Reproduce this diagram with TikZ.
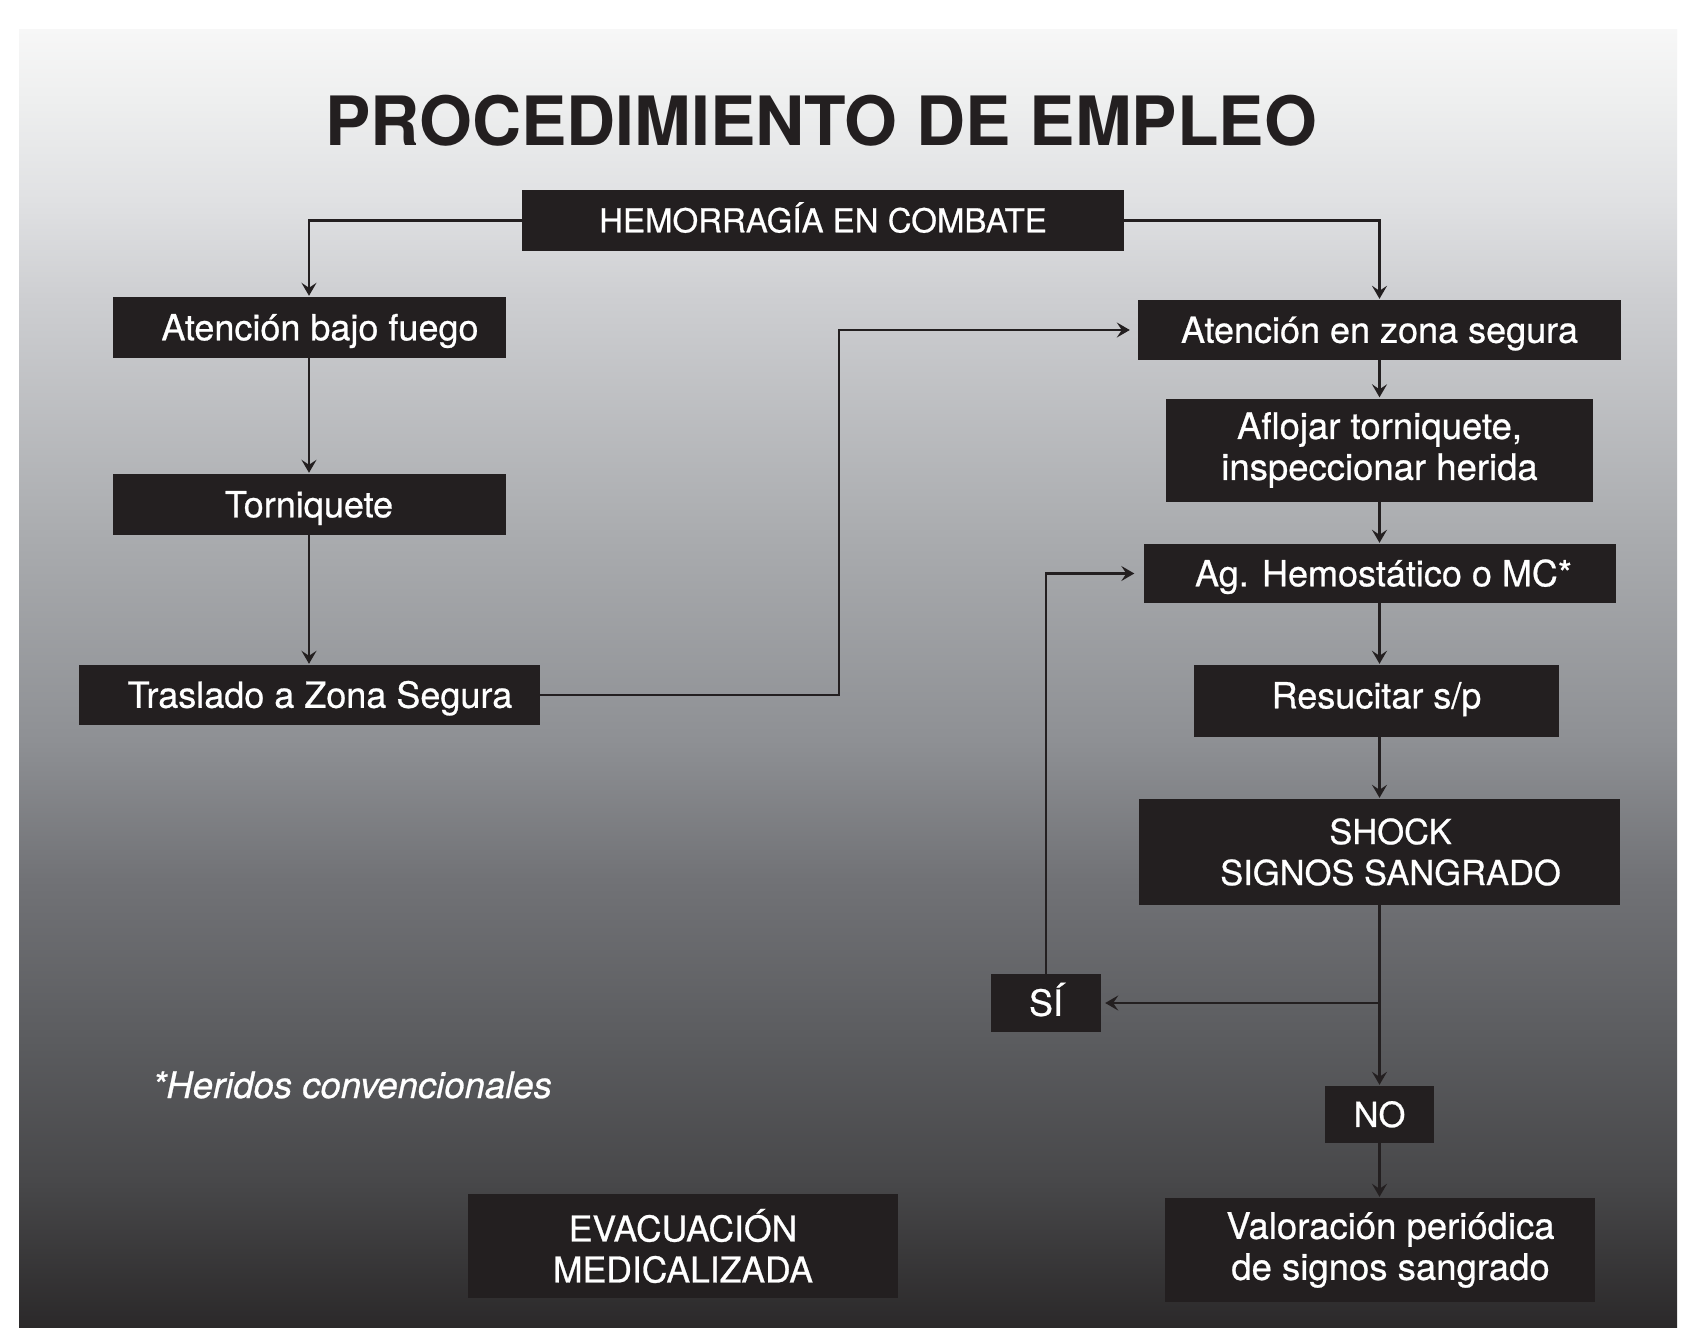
\documentclass[tikz,border=0pt]{standalone}
\usepackage{fontspec}
\setmainfont{TeX Gyre Heros}
\newfontfamily\medfont{TeX Gyre Heros}[FakeBold=0.7]
\usetikzlibrary{arrows.meta,calc}
\definecolor{ink}{HTML}{231F20}
\definecolor{g0}{HTML}{2B292A}
\definecolor{g1}{HTML}{48484A}
\definecolor{g2}{HTML}{5B5C5F}
\definecolor{g3}{HTML}{717276}
\definecolor{g4}{HTML}{8E9094}
\definecolor{g5}{HTML}{A9ABAE}
\definecolor{g6}{HTML}{CDCED1}
\definecolor{g7}{HTML}{E0E1E3}
\definecolor{g8}{HTML}{EEEFEF}
\definecolor{g9}{HTML}{F7F7F7}
\pgfdeclareverticalshading{bgshade}{100bp}{color(0bp)=(g0); color(25bp)=(g0); color(30.66bp)=(g1); color(36.06bp)=(g2); color(42.22bp)=(g3); color(47.61bp)=(g4); color(55.32bp)=(g5); color(64.56bp)=(g6); color(68.41bp)=(g7); color(72.27bp)=(g8); color(75bp)=(g9); color(100bp)=(g9)}
\newcommand{\sh}{\hspace*{22pt}}
\begin{document}
\begin{tikzpicture}[x=1pt,y=-1pt,
  box/.style={fill=ink, text=white, inner sep=0pt, font=\medfont\fontsize{36}{41}\selectfont, text height=25.5pt, text depth=0pt},
  boxtwo/.style={fill=ink, text=white, inner sep=0pt, font=\medfont\fontsize{36.5}{41}\selectfont, align=center},
  arr/.style={draw=ink, line width=2.3pt, shorten >=1pt, -{Stealth[length=13pt, width=15pt, inset=5pt]}}
]
\useasboundingbox (0,0) rectangle (1695,1341);
\fill[white] (0,0) rectangle (1695,1341);
\path[shading=bgshade] (19,29) rectangle (1677,1327);

% title
\node[font=\fontsize{68}{80}\selectfont\bfseries, text=ink, anchor=base, inner sep=0pt] (title) at (821,145) {PROCEDIMIENTO DE EMPLEO};

% left column
\node[box, minimum width=602pt, minimum height=61pt, font=\medfont\fontsize{33}{39}\selectfont, text height=23.7pt] (hem) at (823,220.5) {HEMORRAGÍA EN COMBATE};
\node[box, minimum width=393pt, minimum height=61pt] (abf) at (309,327.5) {\sh Atención bajo fuego};
\node[box, minimum width=393pt, minimum height=61pt] (torn) at (309,504.5) {Torniquete};
\node[box, minimum width=461pt, minimum height=60pt] (tras) at (309,695) {\sh Traslado a Zona Segura};

% right column
\node[box, minimum width=483pt, minimum height=60pt] (azs) at (1379.5,330) {Atención en zona segura};
\node[boxtwo, minimum width=427pt, minimum height=103pt] (afl) at (1379.5,450) {Aflojar torniquete,\\inspeccionar herida};
\node[box, minimum width=472pt, minimum height=59pt] (ag) at (1379.5,573.5) {\hspace*{8pt}Ag. Hemostático o MC*};
\node[box, minimum width=365pt, minimum height=72pt, text depth=10.8pt] (res) at (1376.5,701) {Resucitar s/p};
\node[boxtwo, minimum width=481pt, minimum height=106pt, font=\medfont\fontsize{34.5}{41}\selectfont] (shock) at (1379.5,852) {\sh SHOCK\\\sh SIGNOS SANGRADO};
\node[box, minimum width=110pt, minimum height=58pt] (si) at (1046,1003) {SÍ};
\node[box, minimum width=109pt, minimum height=57pt, font=\medfont\fontsize{34.5}{40}\selectfont, text height=24.8pt] (no) at (1379.5,1114.5) {NO};
\node[boxtwo, minimum width=430pt, minimum height=104pt] (val) at (1379.5,1250) {\sh Valoración periódica\\\sh de signos sangrado};
\node[boxtwo, minimum width=430pt, minimum height=104pt, font=\medfont\fontsize{35.5}{41}\selectfont] (evac) at (683,1246) {EVACUACIÓN\\MEDICALIZADA};

% note
\node[font=\medfont\fontsize{36.5}{41}\selectfont\itshape, text=white, anchor=base west, inner sep=0pt] (nota) at (152,1098) {*Heridos convencionales};

% connectors
\draw[arr] (hem.west) -| (abf.north);
\draw[arr] (hem.east) -| (azs.north);
\draw[arr] (abf.south) -- (torn.north);
\draw[arr] (torn.south) -- (tras.north);
\draw[arr, shorten >=8pt] (tras.east) -| ($(tras.east)!.5!(azs.west)$) |- (azs.west);
\draw[arr] (azs.south) -- (afl.north);
\draw[arr] (afl.south) -- (ag.north);
\draw[arr] (ag.south) -- (ag.south |- res.north);
\draw[arr] (res.south -| shock.north) -- (shock.north);
\draw[arr] (shock.south) -- (no.north);
\draw[arr, shorten >=4pt] (shock.south |- si.east) -- (si.east);
\draw[arr, shorten >=9pt] (si.north) |- (ag.west);
\draw[arr] (no.south) -- (val.north);
\end{tikzpicture}
\end{document}
